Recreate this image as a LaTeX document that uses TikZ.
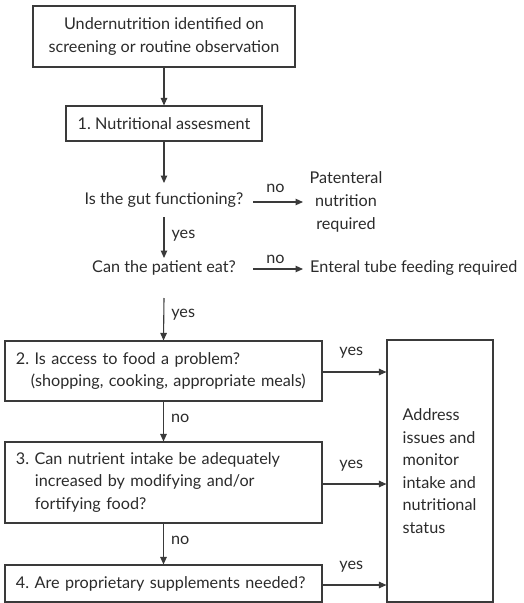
\documentclass[tikz,border=0pt]{standalone}
\usepackage{fontspec}
\setmainfont{Lato}
\usetikzlibrary{arrows.meta,calc}
\definecolor{ink}{HTML}{2B2B2B}
\definecolor{rule}{HTML}{3A3A3A}
\frenchspacing
\begin{document}
\begin{tikzpicture}[x=1pt,y=-1pt,
  every node/.style={text=ink,font=\fontsize{16.2}{22.6}\selectfont},
  box/.style={draw=rule,line width=1.1pt,inner sep=0pt,anchor=center},
  lbox/.style={box,align=left,inner xsep=11pt},
  plain/.style={inner sep=0pt,anchor=center},
  arr/.style={draw=rule,line width=1.1pt,-{Triangle[length=7.5pt,width=6.5pt]}},
  lab/.style={inner sep=0pt,anchor=center}]
\useasboundingbox (0,0) rectangle (523,603);

% main column
\node[box,minimum width=262pt,minimum height=61pt,align=center] (b1) at (164,36.5)
  {Undernutrition identified on\\screening or routine observation};
\node[box,minimum width=196pt,minimum height=35pt] (b2) at (164,123.5)
  {1. Nutritional assesment};
\node[plain] (gut) at (164,200) {Is the gut functioning?};
\node[plain,align=center] (pn) at (346,202) {Patenteral\\nutrition\\required};
\node[plain] (eat) at (164,268) {Can the patient eat?};
\node[plain,anchor=west] (etf) at (310,268) {Enteral tube feeding required};

\node[lbox,text width=295pt,minimum width=317pt,minimum height=60pt] (b3) at (163.5,371)
  {2. Is access to food a problem?\\\hspace*{15pt}(shopping, cooking, appropriate meals)};
\node[lbox,text width=295pt,minimum width=317pt,minimum height=81pt] (b4) at (163.5,482.5)
  {3. Can nutrient intake be adequately\\\hspace*{19pt}increased by modifying and/or\\\hspace*{19pt}fortifying food?};
\node[lbox,text width=295pt,minimum width=317pt,minimum height=37pt] (b5) at (163.5,583.5)
  {4. Are proprietary supplements needed?};

% outcome box on the right
\node[box,minimum width=106pt,minimum height=262pt] (rb) at (440,471) {};
\node[plain,anchor=west,align=left] (rbt) at ($(rb.west)+(16,0)$)
  {Address\\issues and\\monitor\\intake and\\nutritional\\status};

% vertical flow
\draw[arr] (b1.south) -- (b2.north);
\draw[arr] (b2.south) -- ($(gut.center)+(0,-17)$);
\draw[arr] ($(gut.center)+(0,17)$) -- node[lab,right=7pt,pos=0.45] {yes} ($(eat.center)+(0,-10)$);
\draw[arr] ($(eat.center)+(0,30)$) -- node[lab,right=7pt,pos=0.4] {yes} (b3.north);
\draw[arr] (b3.south) -- node[lab,right=7pt,pos=0.42] {no} (b4.north);
\draw[arr] (b4.south) -- node[lab,right=7pt,pos=0.42] {no} (b5.north);

% side branches
\coordinate (gutno) at ($(gut.center)+(89,2)$);
\coordinate (eatno) at ($(eat.center)+(89,1)$);
\draw[arr] (gutno) -- node[lab,pos=0.45,yshift=14pt] {no} ($(gutno -| etf.west)+(-7,0)$);
\draw[arr] (eatno) -- node[lab,pos=0.45,yshift=10pt] {no} ($(eatno -| etf.west)+(-7,0)$);

% yes branches into the outcome box
\draw[arr] ($(b3.east)+(0,1)$) -- node[lab,pos=0.45,yshift=19pt] {yes} ($(b3.east -| rb.west)+(0,1)$);
\draw[arr] ($(b4.east)+(0,1.5)$) -- node[lab,pos=0.45,yshift=18pt] {yes} ($(b4.east -| rb.west)+(0,1.5)$);
\draw[arr] ($(b5.east)+(0,1.5)$) -- node[lab,pos=0.45,yshift=18pt] {yes} ($(b5.east -| rb.west)+(0,1.5)$);
\end{tikzpicture}
\end{document}
